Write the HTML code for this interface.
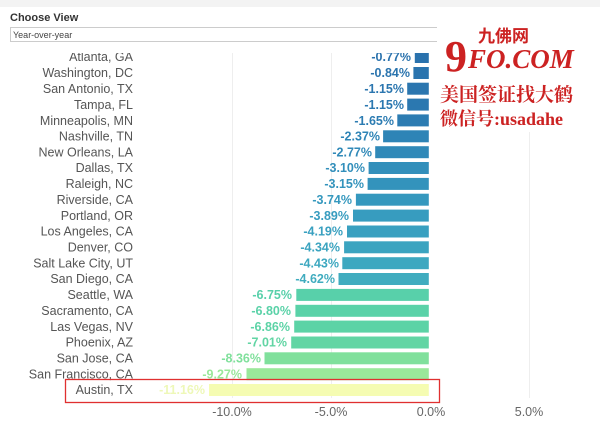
<!DOCTYPE html>
<html><head><meta charset="utf-8"><style>
body{margin:0;width:600px;height:424px;overflow:hidden;background:#fff;font-family:"Liberation Sans",sans-serif}
</style></head><body>
<svg width="600" height="424" xmlns="http://www.w3.org/2000/svg" font-family="Liberation Sans, sans-serif">
<g stroke="#eee" stroke-width="1">
<line x1="232.5" y1="50" x2="232.5" y2="398"/><line x1="331.5" y1="50" x2="331.5" y2="398"/><line x1="529.5" y1="50" x2="529.5" y2="398"/>
</g>
<g font-size="12.5" fill="#555" text-anchor="end">
<text x="133" y="61">Atlanta, GA</text>
<text x="133" y="77">Washington, DC</text>
<text x="133" y="93">San Antonio, TX</text>
<text x="133" y="109">Tampa, FL</text>
<text x="133" y="125">Minneapolis, MN</text>
<text x="133" y="140.5">Nashville, TN</text>
<text x="133" y="156.5">New Orleans, LA</text>
<text x="133" y="172">Dallas, TX</text>
<text x="133" y="188">Raleigh, NC</text>
<text x="133" y="204">Riverside, CA</text>
<text x="133" y="220">Portland, OR</text>
<text x="133" y="235.5">Los Angeles, CA</text>
<text x="133" y="251.5">Denver, CO</text>
<text x="133" y="267.5">Salt Lake City, UT</text>
<text x="133" y="283">San Diego, CA</text>
<text x="133" y="299">Seattle, WA</text>
<text x="133" y="315">Sacramento, CA</text>
<text x="133" y="331">Las Vegas, NV</text>
<text x="133" y="346.5">Phoenix, AZ</text>
<text x="133" y="362.5">San Jose, CA</text>
<text x="133" y="378.5">San Francisco, CA</text>
<text x="133" y="394">Austin, TX</text>
</g>
<g>
<rect x="414.8" y="51" width="14" height="12" fill="#2a72ad"/>
<rect x="413.4" y="67" width="15.4" height="12" fill="#2a74ae"/>
<rect x="407.2" y="82.7" width="21.6" height="12" fill="#2b76af"/>
<rect x="407.2" y="98.6" width="21.6" height="12" fill="#2b78b0"/>
<rect x="397.3" y="114.4" width="31.5" height="12" fill="#2c7cb2"/>
<rect x="383.1" y="130.3" width="45.7" height="12" fill="#2e84b6"/>
<rect x="375.2" y="146.2" width="53.6" height="12" fill="#3089b8"/>
<rect x="368.6" y="162" width="60.2" height="12" fill="#328fbb"/>
<rect x="367.6" y="177.9" width="61.2" height="12" fill="#3393bc"/>
<rect x="355.9" y="193.7" width="72.9" height="12" fill="#3598be"/>
<rect x="353" y="209.6" width="75.8" height="12" fill="#379cbf"/>
<rect x="347" y="225.5" width="81.8" height="12" fill="#39a0c0"/>
<rect x="344.1" y="241.3" width="84.7" height="12" fill="#3ba4c0"/>
<rect x="342.3" y="257.2" width="86.5" height="12" fill="#3da8c0"/>
<rect x="338.5" y="273" width="90.3" height="12" fill="#40acbf"/>
<rect x="296.3" y="288.9" width="132.5" height="12" fill="#58d0aa"/>
<rect x="295.4" y="304.8" width="133.4" height="12" fill="#5ad2a8"/>
<rect x="294.2" y="320.6" width="134.6" height="12" fill="#5cd3a6"/>
<rect x="291.2" y="336.5" width="137.6" height="12" fill="#62d5a4"/>
<rect x="264.5" y="352.3" width="164.3" height="12" fill="#80e09c"/>
<rect x="246.5" y="368.2" width="182.3" height="12" fill="#9ae89a"/>
<rect x="209" y="384" width="219.8" height="12" fill="#f5fcb2"/>
</g>
<g font-size="12.5" font-weight="bold" text-anchor="end">
<text x="411" y="61" fill="#2a72ad">-0.77%</text>
<text x="410" y="77" fill="#2a74ae">-0.84%</text>
<text x="404" y="93" fill="#2b76af">-1.15%</text>
<text x="404" y="109" fill="#2b78b0">-1.15%</text>
<text x="394" y="125" fill="#2c7cb2">-1.65%</text>
<text x="380" y="140.5" fill="#2e84b6">-2.37%</text>
<text x="372" y="156.5" fill="#3089b8">-2.77%</text>
<text x="365" y="172" fill="#328fbb">-3.10%</text>
<text x="364" y="188" fill="#3393bc">-3.15%</text>
<text x="352" y="204" fill="#3598be">-3.74%</text>
<text x="349" y="220" fill="#379cbf">-3.89%</text>
<text x="343" y="235.5" fill="#39a0c0">-4.19%</text>
<text x="340" y="251.5" fill="#3ba4c0">-4.34%</text>
<text x="339" y="267.5" fill="#3da8c0">-4.43%</text>
<text x="335" y="283" fill="#40acbf">-4.62%</text>
<text x="292" y="299" fill="#58d0aa">-6.75%</text>
<text x="291" y="315" fill="#5ad2a8">-6.80%</text>
<text x="290" y="331" fill="#5cd3a6">-6.86%</text>
<text x="287" y="346.5" fill="#62d5a4">-7.01%</text>
<text x="261" y="362.5" fill="#80e09c">-8.36%</text>
<text x="242" y="378.5" fill="#9ae89a">-9.27%</text>
<text x="205" y="394" fill="#eef8b8">-11.16%</text>
</g>
<rect x="0" y="0" width="600" height="53" fill="#fff"/>
<rect x="0" y="0" width="600" height="7" fill="#f3f3f3"/>
<text x="10" y="21" font-size="11" font-weight="bold" fill="#333">Choose View</text>
<rect x="10.5" y="27.5" width="585" height="14" fill="#fff" stroke="#ccc"/>
<text x="13" y="38" font-size="9" fill="#444">Year-over-year</text>
<rect x="65.5" y="379.5" width="374" height="23" fill="none" stroke="#e03030" stroke-width="1.3"/>
<g font-size="12.5" fill="#666" text-anchor="middle">
<text x="232" y="416">-10.0%</text><text x="331" y="416">-5.0%</text><text x="431" y="416">0.0%</text><text x="529" y="416">5.0%</text>
</g>
<rect x="437" y="27" width="163" height="105" fill="#fff"/>
<text x="478" y="42" font-size="17" font-weight="bold" fill="#cc2222" font-family="Noto Sans CJK SC, sans-serif">九佛网</text>
<text x="445" y="71" font-size="44" font-weight="bold" fill="#cc2222" font-family="Liberation Serif, serif">9</text>
<text x="468" y="68" font-size="27" font-weight="bold" font-style="italic" fill="#cc2222" font-family="Liberation Serif, serif">FO.COM</text>
<text x="440" y="101" font-size="19" font-weight="bold" fill="#cc2222" font-family="Noto Serif CJK SC, serif">美国签证找大鹤</text>
<text x="440" y="125" font-size="18" font-weight="bold" fill="#cc2222" font-family="Liberation Serif, Noto Serif CJK SC, serif">微信号:usadahe</text>
</svg>
</body></html>
